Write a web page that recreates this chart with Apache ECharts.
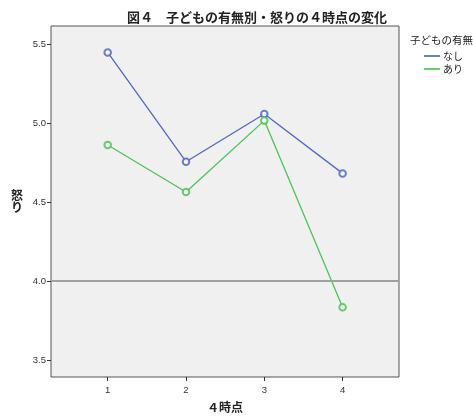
<!DOCTYPE html>
<html><head><meta charset="utf-8">
<script src="https://cdn.jsdelivr.net/npm/echarts@6/dist/echarts.min.js"></script>
<style>html,body{margin:0;padding:0;background:#fff}#c{width:473px;height:416px}</style>
</head><body><div id="c"></div>
<script>
const timePoints = [1, 2, 3, 4];
const seriesNames = ['なし', 'あり'];
const valuesNashi = [5.447, 4.755, 5.057, 4.681];
const valuesAri = [4.861, 4.563, 5.015, 3.833];
const yTicks = [3.5, 4.0, 4.5, 5.0, 5.5];
const xTicks = [1, 2, 3, 4];
const refLine = 4.0;

const font = '"Noto Sans CJK JP", "DejaVu Sans", sans-serif';
const chart = echarts.init(document.getElementById('c'));
chart.setOption({
  animation: false,
  backgroundColor: '#fff',
  title: [
    { text: '図４　子どもの有無別・怒りの４時点の変化', left: 122, top: 6,
      textStyle: { fontSize: 13, fontWeight: 'bold', color: '#222', fontFamily: font } },
    { text: '子どもの有無', left: 405, top: 30,
      textStyle: { fontSize: 10.5, fontWeight: 'normal', color: '#222', fontFamily: font } }
  ],
  legend: {
    orient: 'vertical', left: 419, top: 46, itemWidth: 16, itemHeight: 2, itemGap: 3,
    icon: 'rect',
    textStyle: { fontSize: 10, color: '#222', fontFamily: font, padding: [0,0,0,-2] },
    data: seriesNames
  },
  grid: { left: 51, top: 26, width: 348, height: 351, show: true, backgroundColor: '#f0f0f0',
          borderColor: '#555', borderWidth: 1, outerBoundsMode: 'none', containLabel: false },
  xAxis: {
    type: 'value', min: 0.276, max: 4.72,
    name: '４時点', nameLocation: 'middle', nameGap: 24,
    nameTextStyle: { fontSize: 12, fontWeight: 'bold', color: '#222', fontFamily: font },
    axisLine: { show: false },
    splitLine: { show: false },
    axisTick: { show: true, length: 4, lineStyle: { color: '#333' }, customValues: xTicks },
    axisLabel: { fontSize: 9.5, color: '#333', margin: 8, fontFamily: 'Liberation Sans, Arial', customValues: xTicks }
  },
  yAxis: {
    type: 'value', min: 3.392, max: 5.614,
    name: '怒\nり', nameLocation: 'middle', nameGap: 28, nameRotate: 0,
    nameTextStyle: { fontSize: 12, fontWeight: 'bold', color: '#222', fontFamily: font, lineHeight: 12 },
    axisLine: { show: false },
    splitLine: { show: false },
    axisTick: { show: true, length: 4, lineStyle: { color: '#333' }, customValues: yTicks },
    axisLabel: { fontSize: 9.5, color: '#333', margin: 5, fontFamily: 'Liberation Sans, Arial',
                 customValues: yTicks, formatter: v => v.toFixed(1) }
  },
  series: [
    { name: seriesNames[0], type: 'line', data: timePoints.map((t,i)=>[t, valuesNashi[i]]),
      symbol: 'emptyCircle', symbolSize: 6.5, color: '#5566c0',
      lineStyle: { width: 1.3, color: '#5566c0' }, itemStyle: { color: '#5566c0', borderWidth: 0.8, opacity: 0.85 },
      markLine: { silent: true, symbol: 'none', label: { show: false },
        lineStyle: { color: '#a0a0a0', width: 2, type: 'solid' }, data: [{ yAxis: refLine }] },
      z: 3 },
    { name: seriesNames[1], type: 'line', data: timePoints.map((t,i)=>[t, valuesAri[i]]),
      symbol: 'emptyCircle', symbolSize: 6.5, color: '#4cc25a',
      lineStyle: { width: 1.3, color: '#4cc25a' }, itemStyle: { color: '#4cc25a', borderWidth: 0.8, opacity: 0.85 },
      z: 4 }
  ]
});
</script></body></html>
